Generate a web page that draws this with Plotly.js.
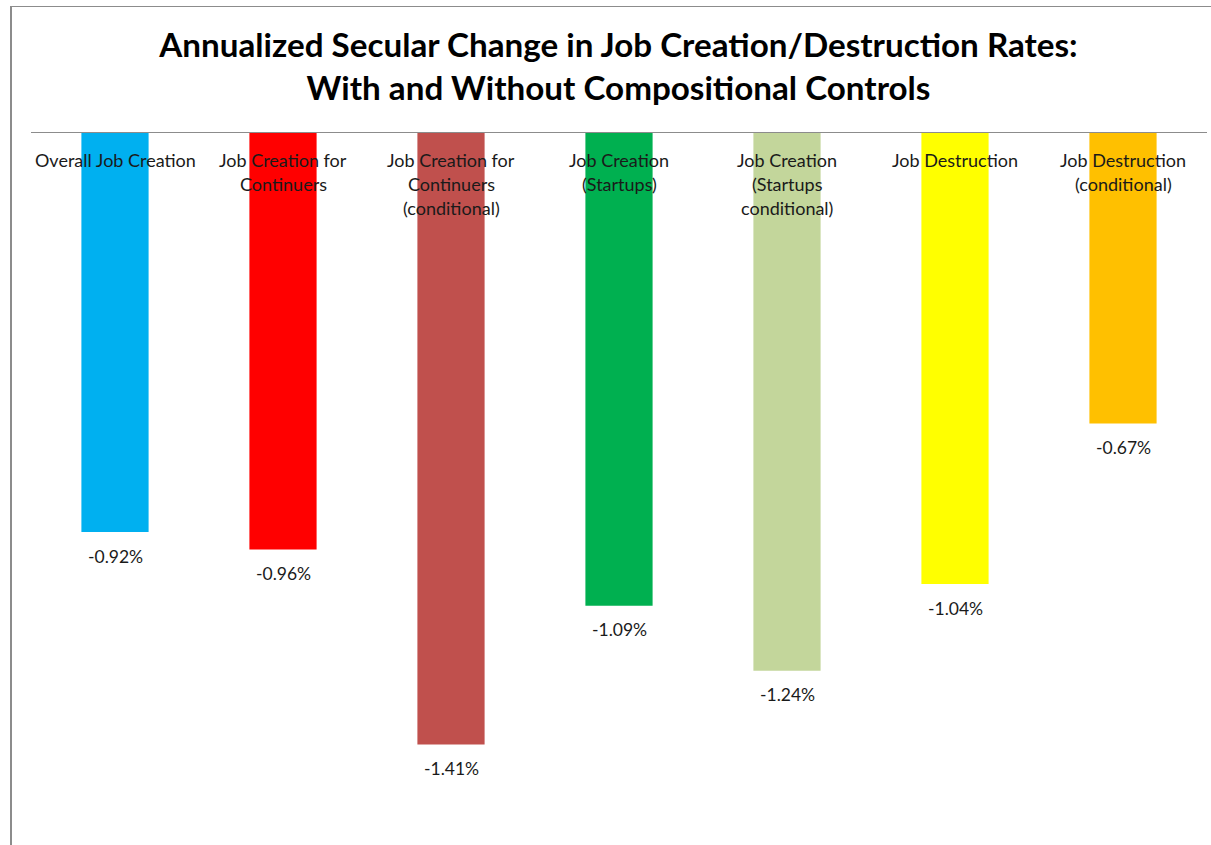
<!DOCTYPE html>
<html>
<head>
<meta charset="utf-8">
<script src="https://cdn.plot.ly/plotly-3.0.1.min.js"></script>
<style>
  html, body { margin: 0; padding: 0; background: #ffffff; }
  #wrap { position: relative; width: 1211px; height: 845px; overflow: hidden; }
  #chart { position: absolute; left: 0; top: 0; width: 1211px; height: 845px; }
  #frame { position: absolute; left: 10px; top: 6px; width: 1230px; height: 900px;
           border-left: 2px solid #8c8c8c; border-top: 1px solid #8c8c8c; pointer-events: none; }
</style>
</head>
<body>
<div id="wrap">
  <div id="chart"></div>
  <div id="frame"></div>
</div>
<script>
const categories = [
  "Overall Job Creation",
  "Job Creation for<br>Continuers",
  "Job Creation for<br>Continuers<br>(conditional)",
  "Job Creation<br>(Startups)",
  "Job Creation<br>(Startups<br>conditional)",
  "Job Destruction",
  "Job Destruction<br>(conditional)"
];
const values = [-0.92, -0.96, -1.41, -1.09, -1.24, -1.04, -0.67];
const barColors = ["#00B0F0", "#FF0000", "#C0504D", "#00B050", "#C3D69B", "#FFFF00", "#FFC000"];
const titleText = "Annualized Secular Change in Job Creation/Destruction Rates:<br>With and Without Compositional Controls";

const FONT = "Lato, 'Open Sans', sans-serif";

const trace = {
  type: "bar",
  x: categories,
  y: values,
  width: 0.4,
  marker: { color: barColors, line: { width: 0 } },
  hoverinfo: "x+y"
};

const annotations = [];
// category labels, one annotation per line, hanging below the axis line
categories.forEach(function (cat) {
  cat.split("<br>").forEach(function (line, i) {
    annotations.push({
      x: cat, y: 0, xref: "x", yref: "y",
      text: line, showarrow: false,
      xanchor: "center", yanchor: "middle",
      yshift: -27 - 24 * i,
      font: { family: FONT, size: 18, color: "#1a1a1a" }
    });
  });
});
// value labels below each bar end
categories.forEach(function (cat, i) {
  annotations.push({
    x: cat, y: values[i], xref: "x", yref: "y",
    text: values[i].toFixed(2) + "%", showarrow: false,
    xanchor: "center", yanchor: "middle",
    yshift: -24,
    font: { family: FONT, size: 17.5, color: "#1a1a1a" }
  });
});

const layout = {
  width: 1211, height: 845,
  margin: { l: 31, r: 4, t: 133, b: 18 },
  paper_bgcolor: "rgba(0,0,0,0)",
  plot_bgcolor: "#ffffff",
  showlegend: false,
  title: {
    text: "<b>" + titleText + "</b>",
    x: 618.5 / 1211, xanchor: "center", xref: "container",
    y: 1 - 57 / 845, yanchor: "middle", yref: "container",
    font: { family: FONT, size: 33.2, color: "#000000" }
  },
  xaxis: {
    type: "category",
    range: [-0.5, 6.5],
    side: "top",
    showline: true, linecolor: "#8c8c8c", linewidth: 1,
    ticks: "", showticklabels: false, showgrid: false, zeroline: false,
    fixedrange: true
  },
  yaxis: {
    range: [-1.6, 0],
    visible: false, showgrid: false, zeroline: false,
    fixedrange: true
  },
  annotations: annotations
};

Plotly.newPlot("chart", [trace], layout, { displayModeBar: false, staticPlot: true });
</script>
</body>
</html>
